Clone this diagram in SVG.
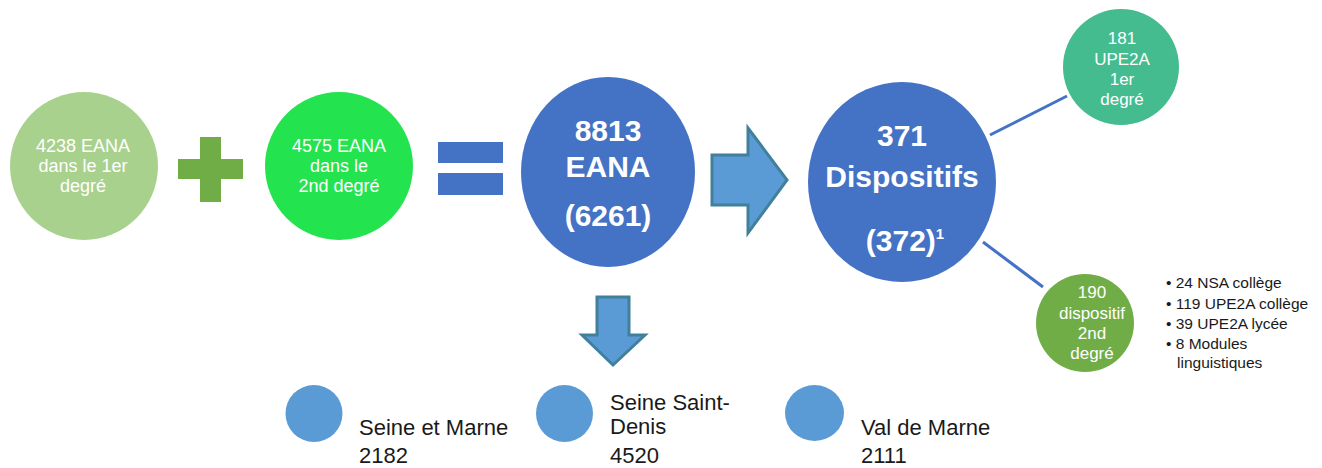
<svg xmlns="http://www.w3.org/2000/svg" width="1322" height="468" viewBox="0 0 1322 468">
<style>
.lt{font-family:"Liberation Sans",Arial,sans-serif;fill:#ffffff;text-anchor:middle}
.bd{font-family:"Liberation Sans",Arial,sans-serif;fill:#ffffff;text-anchor:middle;font-weight:bold;font-size:30px}
.dk{font-family:"Liberation Sans",Arial,sans-serif;fill:#1a1a1a}
.arrow{fill:#5B9BD5;stroke:#41809A;stroke-width:3;stroke-linejoin:miter}
.conn{stroke:#4472C4;stroke-width:3;fill:none}
.dep{fill:#5B9BD5}
</style>
<rect width="1322" height="468" fill="#ffffff"/>
<g id="connectors">
<line class="conn" x1="990" y1="135" x2="1067" y2="96"/>
<line class="conn" x1="983" y1="242" x2="1043" y2="287"/>
<polygon class="arrow" points="712,155 748,155 748,128 787,180 748,233 748,205 712,205"/>
<polygon class="arrow" points="597,297 629,297 629,335 645,335 613,365 582,335 597,335"/>
</g>
<g id="eana1">
<circle cx="84" cy="166" r="74" fill="#A9D18E"/>
<text class="lt" font-size="18" x="83" y="152">4238 EANA</text>
<text class="lt" font-size="18" x="83" y="172">dans le 1er</text>
<text class="lt" font-size="18" x="83" y="192">degré</text>
</g>
<g id="plus">
<rect x="200" y="137" width="21" height="65" fill="#70AD47"/>
<rect x="178" y="159" width="65" height="20" fill="#70AD47"/>
</g>
<g id="eana2">
<circle cx="339" cy="166" r="74" fill="#23E34F"/>
<text class="lt" font-size="18" x="339" y="152">4575 EANA</text>
<text class="lt" font-size="18" x="339" y="172">dans le</text>
<text class="lt" font-size="18" x="339" y="192">2nd degré</text>
</g>
<g id="equals">
<rect x="438" y="142" width="65" height="21" fill="#4472C4"/>
<rect x="438" y="173" width="65" height="22" fill="#4472C4"/>
</g>
<g id="total">
<ellipse cx="608" cy="172" rx="87" ry="95" fill="#4472C4"/>
<text class="bd" x="608" y="141">8813</text>
<text class="bd" x="608" y="177">EANA</text>
<text class="bd" x="608" y="226">(6261)</text>
</g>
<g id="dispositifs">
<ellipse cx="902" cy="182" rx="94" ry="100" fill="#4472C4"/>
<text class="bd" x="902" y="146">371</text>
<text class="bd" x="902" y="187">Dispositifs</text>
<text class="bd" x="905" y="251">(372)<tspan font-size="15" dy="-12">1</tspan></text>
</g>
<g id="upe2a1">
<circle cx="1121" cy="67" r="58" fill="#44BC8F"/>
<text class="lt" font-size="17" x="1122" y="44">181</text>
<text class="lt" font-size="17" x="1122" y="64.5">UPE2A</text>
<text class="lt" font-size="17" x="1122" y="85">1er</text>
<text class="lt" font-size="17" x="1122" y="105">degré</text>
</g>
<g id="disp2">
<circle cx="1085" cy="323" r="49" fill="#70AD47"/>
<text class="lt" font-size="17" x="1092" y="298">190</text>
<text class="lt" font-size="17" x="1092" y="318.5">dispositif</text>
<text class="lt" font-size="17" x="1092" y="339">2nd</text>
<text class="lt" font-size="17" x="1092" y="359">degré</text>
</g>
<g id="bullets">
<text class="dk" font-size="15.5" x="1166" y="288">• 24 NSA collège</text>
<text class="dk" font-size="15.5" x="1166" y="308.5">• 119 UPE2A collège</text>
<text class="dk" font-size="15.5" x="1166" y="329">• 39 UPE2A lycée</text>
<text class="dk" font-size="15.5" x="1166" y="349">• 8 Modules</text>
<text class="dk" font-size="15.5" x="1177" y="368">linguistiques</text>
</g>
<g id="seine-et-marne">
<circle class="dep" cx="314" cy="413.5" r="28.5"/>
<text class="dk" font-size="22" x="359" y="435">Seine et Marne</text>
<text class="dk" font-size="22" x="359" y="463">2182</text>
</g>
<g id="seine-saint-denis">
<circle class="dep" cx="564.5" cy="413.5" r="28.5"/>
<text class="dk" font-size="22" x="610" y="410">Seine Saint-</text>
<text class="dk" font-size="22" x="610" y="434">Denis</text>
<text class="dk" font-size="22" x="610" y="463">4520</text>
</g>
<g id="val-de-marne">
<ellipse class="dep" cx="814.5" cy="413" rx="29.5" ry="28"/>
<text class="dk" font-size="22" x="861" y="435">Val de Marne</text>
<text class="dk" font-size="22" x="861" y="463">2111</text>
</g>
</svg>
